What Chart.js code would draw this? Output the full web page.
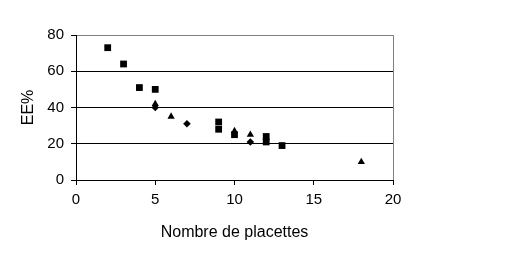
<!DOCTYPE html>
<html><head><meta charset="utf-8">
<script src="https://cdn.jsdelivr.net/npm/chart.js@4/dist/chart.umd.min.js"></script>
<style>html,body{margin:0;padding:0;background:#fff}#wrap{width:506px;height:263px}</style>
</head><body><div id="wrap"><canvas id="c" width="506" height="263"></canvas></div>
<script>
const squareX = [2, 3, 4, 5, 9, 9, 10, 12, 12, 13];
const squareY = [73, 64, 51, 50, 32, 28, 25, 24, 21, 19];
const triangleX = [5, 6, 10, 11, 18];
const triangleY = [42, 35, 27, 25, 10];
const diamondX = [5, 7, 11];
const diamondY = [40, 31, 21];
const xTicks = [0, 5, 10, 15, 20];
const yTicks = [0, 20, 40, 60, 80];

const toPts = (xs, ys) => xs.map((x, i) => ({x: x, y: ys[i]}));
const tickFont = {family: '"Liberation Sans", Arial, sans-serif', size: 15};
const titleFont = {family: '"Liberation Sans", Arial, sans-serif', size: 16};

new Chart(document.getElementById('c'), {
  type: 'scatter',
  data: {
    datasets: [
      {data: toPts(squareX, squareY), pointStyle: 'rect', pointRadius: 4.8, backgroundColor: '#000', borderColor: '#000', borderWidth: 0},
      {data: toPts(triangleX, triangleY), pointStyle: 'triangle', pointRadius: 4.2, backgroundColor: '#000', borderColor: '#000', borderWidth: 0},
      {data: toPts(diamondX, diamondY), pointStyle: 'rectRot', pointRadius: 3.8, backgroundColor: '#000', borderColor: '#000', borderWidth: 0}
    ]
  },
  options: {
    responsive: false,
    animation: false,
    devicePixelRatio: 1,
    layout: {padding: {left: 0, top: 35, right: 113, bottom: 0}},
    plugins: {legend: {display: false}, tooltip: {enabled: false}},
    scales: {
      x: {
        type: 'linear', min: 0, max: 20,
        afterBuildTicks: s => { s.ticks = xTicks.map(v => ({value: v})); },
        afterFit: s => { s.height = 83; },
        border: {color: '#000', width: 1},
        grid: {
          color: c => (c.tick && c.tick.value === 20) ? '#808080' : 'rgba(0,0,0,0)',
          tickColor: '#000', tickLength: 5, lineWidth: 1
        },
        ticks: {color: '#000', font: tickFont, padding: 6, maxRotation: 0},
        title: {display: true, text: 'Nombre de placettes', color: '#000', font: titleFont, padding: {top: 0, bottom: 21}}
      },
      y: {
        type: 'linear', min: 0, max: 80,
        afterBuildTicks: s => { s.ticks = yTicks.map(v => ({value: v})); },
        afterFit: s => { s.width = 76; },
        border: {color: '#000', width: 1},
        grid: {
          color: c => (c.tick && c.tick.value === 80) ? '#808080' : '#000',
          tickColor: '#000', tickLength: 5, lineWidth: 1
        },
        ticks: {color: '#000', font: tickFont, padding: 7},
        title: {display: true, text: 'EE%', color: '#000', font: titleFont, padding: {top: 19, bottom: 0}}
      }
    }
  }
});
</script></body></html>
